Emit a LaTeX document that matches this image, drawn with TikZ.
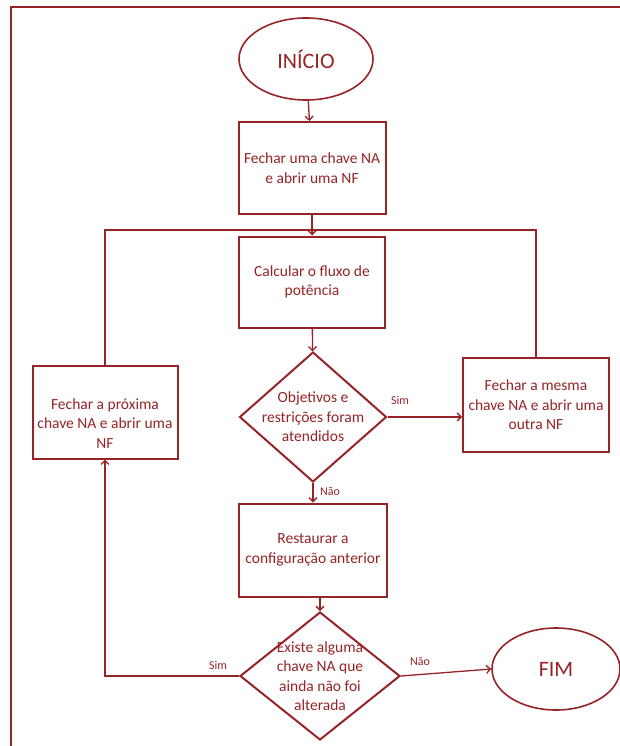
\documentclass[tikz,border=0pt]{standalone}
\usepackage{fontspec}
\setmainfont{Carlito}
\usetikzlibrary{shapes.geometric,arrows.meta}
\definecolor{vinho}{RGB}{150,35,38}

\begin{document}
\begin{tikzpicture}[x=1pt,y=-1pt,
  every node/.style={text=vinho,font=\fontsize{15.5}{19.5}\selectfont},
  passo/.style={draw=vinho,line width=2pt,minimum width=147pt,minimum height=92pt,align=center,inner sep=2pt},
  decisao/.style={diamond,draw=vinho,line width=2pt,inner sep=-16pt,align=center},
  terminal/.style={ellipse,draw=vinho,line width=1.6pt,minimum width=134pt,minimum height=82pt,font=\fontsize{22}{26}\selectfont},
  rotulo/.style={font=\fontsize{12}{14}\selectfont},
  liga/.style={draw=vinho,line width=1.3pt},
  >={Straight Barb[length=4pt,width=8pt]}]
\useasboundingbox (0,0) rectangle (619,746);
% moldura
\draw[vinho,line width=2pt] (11,760) -- (11,7) -- (640,7);
% coluna central
\node[terminal] (inicio) at (306,59) {INÍCIO};
\node[passo] (fechar) at (312,168) {Fechar uma chave NA\\ e abrir uma NF};
\node[passo,minimum width=146pt,minimum height=91pt] (calcular) at (312,282) {Calcular o fluxo de\\ potência};
\node[decisao,minimum width=147pt,minimum height=130pt] (objetivos) at (313,417) {Objetivos e\\ restrições foram\\ atendidos};
\node[passo,minimum width=148pt,minimum height=93pt] (restaurar) at (313,550) {Restaurar a\\ configuração anterior};
\node[decisao,minimum width=160pt,minimum height=128pt] (existe) at (320,676) {Existe alguma\\ chave NA que\\ ainda não foi\\ alterada};
% laterais
\node[passo,minimum width=145pt,minimum height=93pt] (proxima) at (105,412) {\mbox{}\\[14pt] Fechar a próxima\\ chave NA e abrir uma\\ NF};
\node[passo,minimum width=146pt,minimum height=94pt] (mesma) at (536,405) {Fechar a mesma\\ chave NA e abrir uma\\ outra NF};
\node[terminal,minimum width=128pt] (fim) at (556,669) {FIM};
\coordinate (laco) at (312,230);
% ligacoes
\draw[liga,->] (inicio) -- (fechar);
\draw[liga,->] (fechar) -- (calcular);
\draw[liga] (proxima.north) |- (laco) -| (mesma.north);
\draw[liga,->] (calcular) -- (objetivos);
\draw[liga,->] (objetivos.east) -- (objetivos.east -| mesma.west);
\draw[liga,->] (objetivos.south) -- (objetivos.south |- restaurar.north);
\draw[liga,->] (restaurar.south -| existe.north) -- (existe.north);
\draw[liga,->] (existe.east) -- (fim.west);
\draw[liga,->] (existe.west) -| (proxima.south);
% rotulos
\node[rotulo] (sim1) at (400,400) {Sim};
\node[rotulo] (nao1) at (330,492) {Não};
\node[rotulo] (sim2) at (218,665) {Sim};
\node[rotulo] (nao2) at (420,662) {Não};
\end{tikzpicture}
\end{document}
